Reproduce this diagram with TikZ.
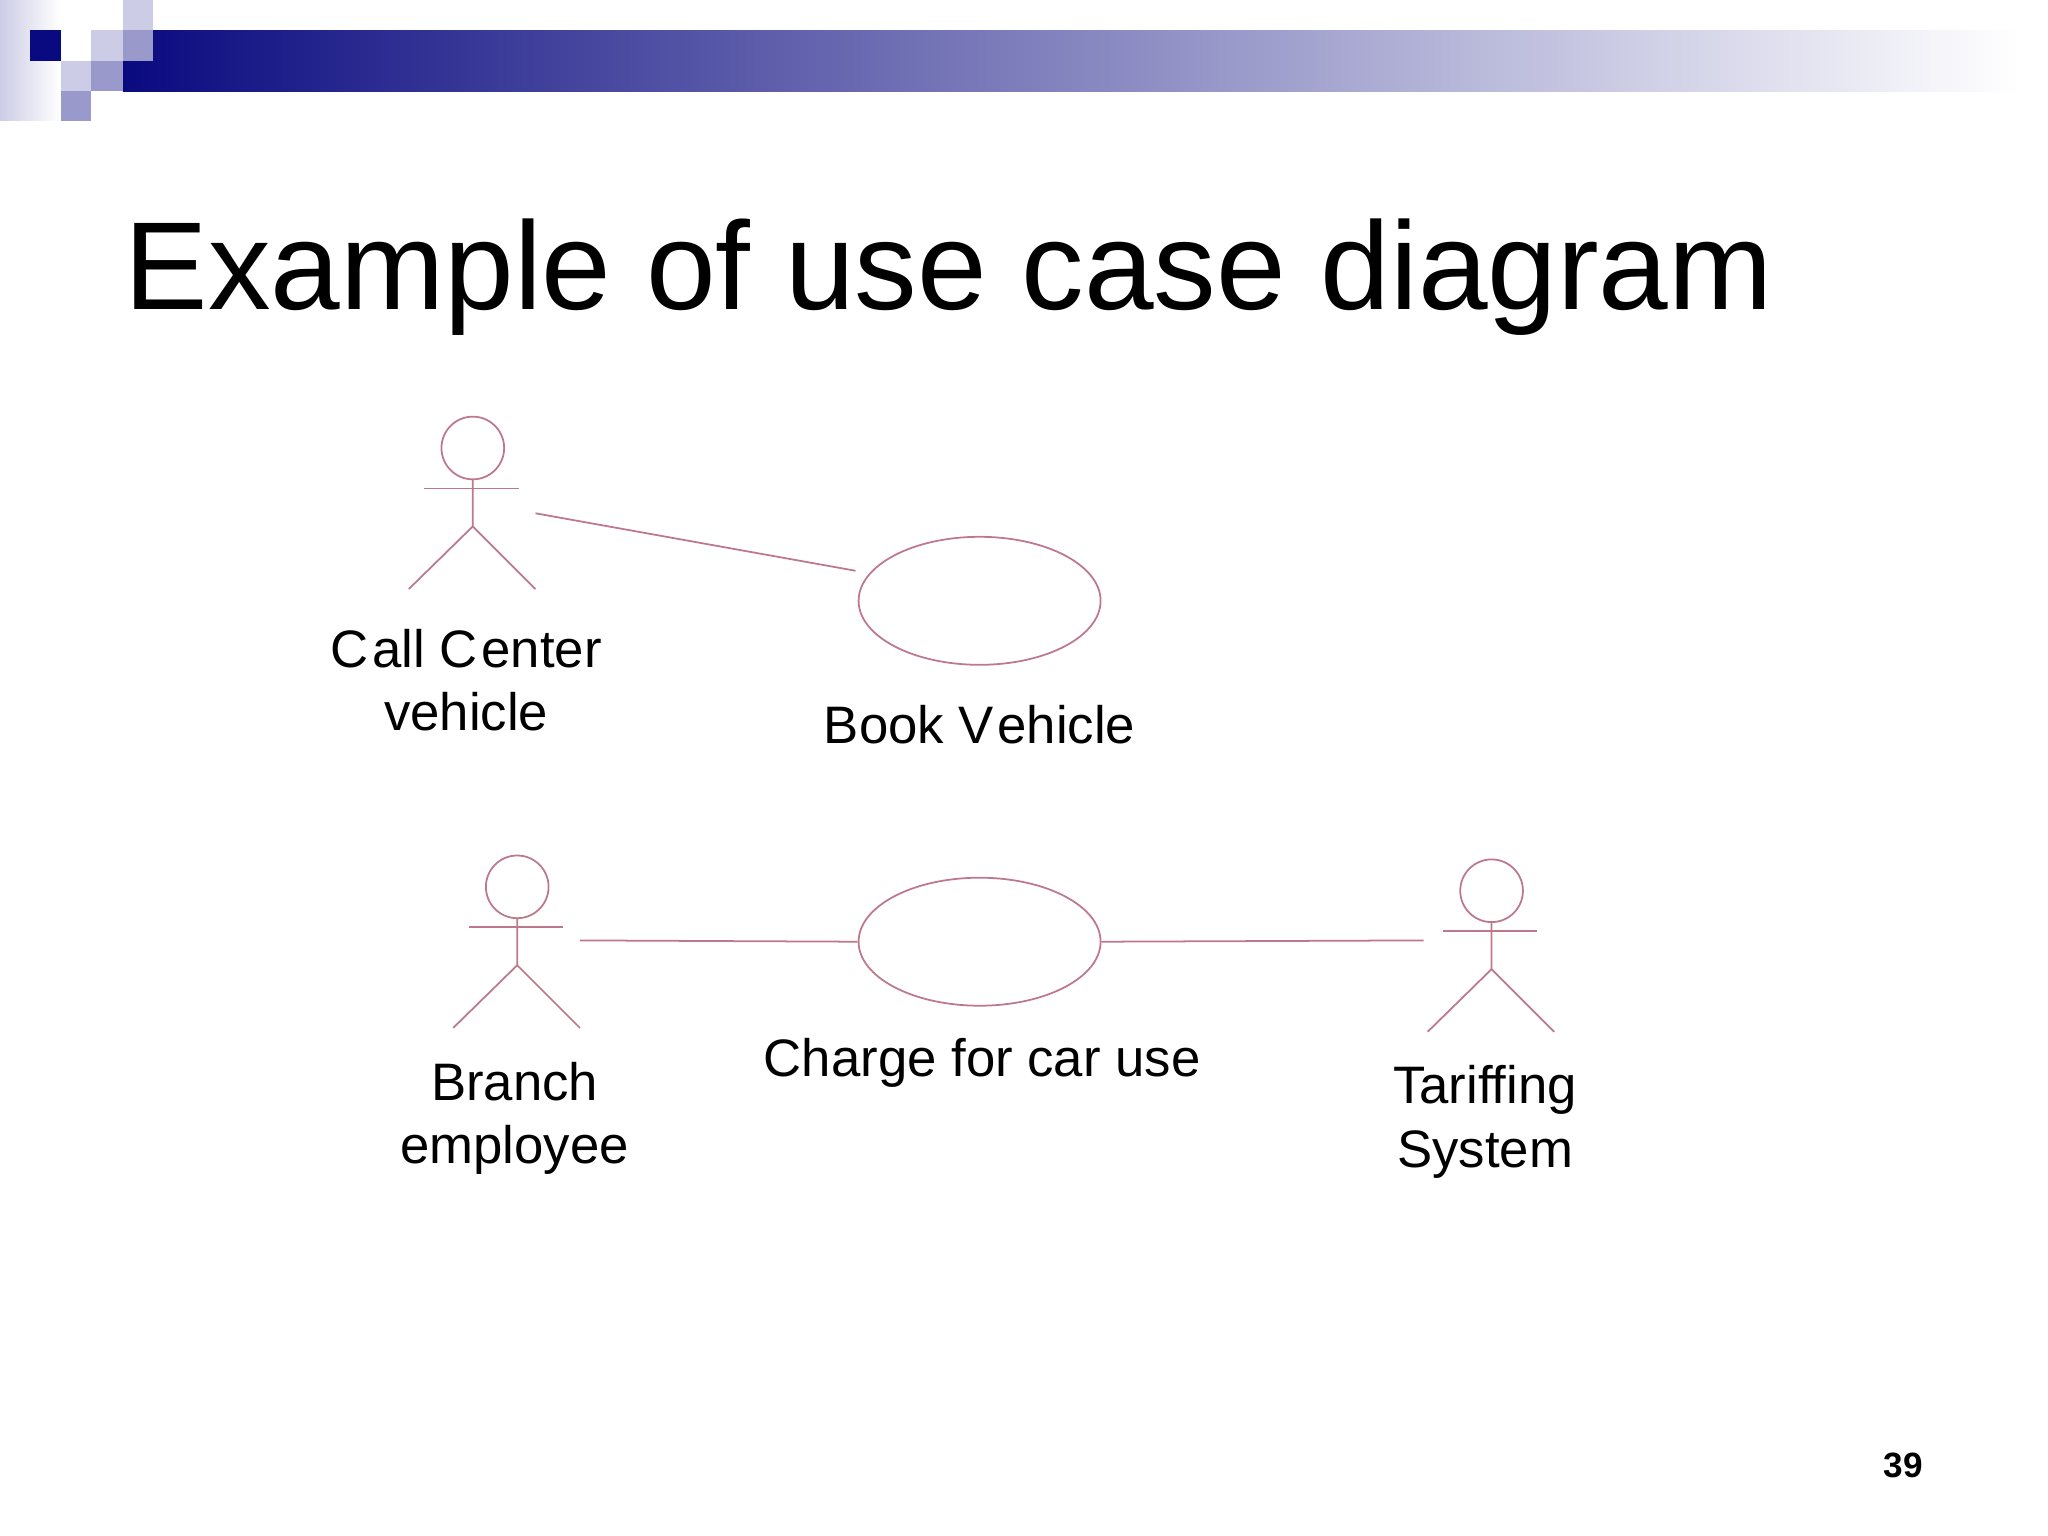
\documentclass[tikz,border=0pt]{standalone}
\usepackage{fontspec}
\setmainfont{Liberation Sans}
\usetikzlibrary{shapes.geometric}
\definecolor{navy}{RGB}{10,10,128}
\definecolor{lav}{RGB}{204,204,230}
\definecolor{mid}{RGB}{153,153,204}
\definecolor{uml}{RGB}{190,120,140}
\tikzset{umlline/.style={draw=uml,line width=0.5pt},
lbl/.style={font=\fontsize{15}{18}\selectfont,align=center,inner sep=0pt},
uc/.style={draw=uml,line width=0.5pt,ellipse,minimum width=2.42cm,minimum height=1.28cm,inner sep=0pt}}
\begin{document}
\begin{tikzpicture}[x=0.01306cm,y=-0.01306cm]
\useasboundingbox (0,0) rectangle (1568,1176);
\fill[white] (0,0) rectangle (1568,1176);
% decoration
\shade[left color=lav,right color=white] (0,0) rectangle (46,92);
\shade[left color=navy,right color=white] (94,23) rectangle (1545,70);
\fill[navy] (23,23) rectangle (47,47);
\fill[lav] (70,23) rectangle (94,47);
\fill[mid] (94,23) rectangle (117,47);
\fill[lav] (94,0) rectangle (117,23);
\fill[lav] (47,47) rectangle (70,70);
\fill[mid] (70,47) rectangle (94,70);
\fill[mid] (47,70) rectangle (70,93);
\node[anchor=base west,inner sep=0pt,font=\fontsize{35.6}{44}\selectfont] (title) at (95,237) {Example of use case diagram};
% actors
\foreach \n/\x/\y in {a/362/343,b/396/679,c/1142/682}{
  \draw[umlline] (\x,\y) circle (24);
  \draw[umlline] (\x-37,\y+31) -- (\x+35,\y+31);
  \draw[umlline] (\x,\y+24) -- (\x,\y+60) -- (\x-49,\y+108);
  \draw[umlline] (\x,\y+60) -- (\x+48,\y+108);
  \coordinate (\n) at (\x,\y);
}
\node[lbl] (la) at (357,521) {C\kern1pt all C\kern1pt enter\\vehicle};
\node[lbl] (lb) at (394,856) {Branch\\employee};
\node[lbl] (lc) at (1137,859) {Tariffing\\System};
\node[uc] (u1) at (750,460) {};
\node[uc] (u2) at (750,721) {};
\node[lbl] (l1) at (750,555) {Book V\kern1pt ehicle};
\node[lbl] (l2) at (752,814) {Charge for car use};
\coordinate (ae) at (410,393);
\coordinate (ue) at (655,437);
\coordinate (be) at (444,720);
\coordinate (ce) at (1090,720);
\draw[umlline] (ae) -- (ue);
\draw[umlline] (be) -- (u2.west);
\draw[umlline] (u2.east) -- (ce);
\node[font=\fontsize{10}{12}\selectfont\bfseries,inner sep=0pt] (pg) at (1457,1122) {39};
\end{tikzpicture}
\end{document}
